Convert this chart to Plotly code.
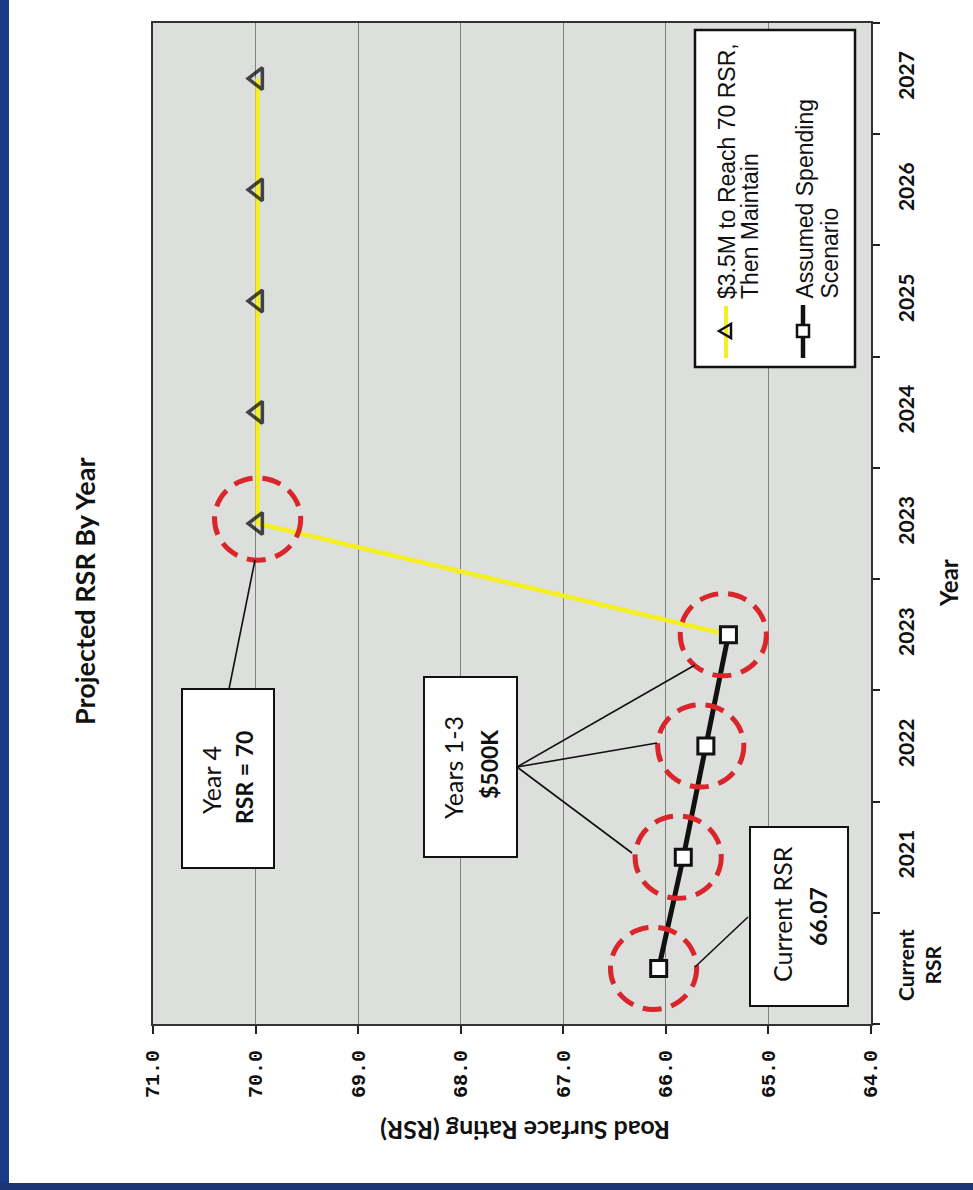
import plotly.graph_objects as go

# ---------------- data ----------------
categories = ["Current<br>RSR", "2021", "2022", "2023", "2023", "2024", "2025", "2026", "2027"]
assumed_spending = [66.07, 65.83, 65.61, 65.39, None, None, None, None, None]
reach_70 = [None, None, None, 65.39, 69.98, 69.98, 69.98, 69.98, 69.98]
circled_assumed = [0, 1, 2, 3]   # category indices circled on the black series
circled_reach = [4]              # category index circled on the yellow series
rsr_ticks = [64.0, 65.0, 66.0, 67.0, 68.0, 69.0, 70.0, 71.0]
rsr_range = [71.0, 64.0]

series1_name = ["$3.5M to Reach 70 RSR,", "Then Maintain"]
series2_name = ["Assumed Spending", "Scenario"]

# ---------------- geometry helpers (pixel -> paper) ----------------
W, H = 973, 1190
L, R, T, B = 153, 871, 23, 1024


def px(x):
    return (x - L) / (R - L)


def py(y):
    return (B - y) / (B - T)


idx = list(range(len(categories)))
YELLOW = "#f3ef22"
RED = "#d8262b"
LATO = "Lato, 'Open Sans', sans-serif"
ARIAL = "'Liberation Sans', Arial, sans-serif"
MONO = "'Liberation Mono', 'DejaVu Sans Mono', monospace"

fig = go.Figure()

# yellow series (first point hidden under the square)
first = next(i for i, v in enumerate(reach_70) if v is not None)
fig.add_trace(go.Scatter(
    x=reach_70, y=idx, mode="lines+markers", name=" ".join(series1_name),
    line=dict(color=YELLOW, width=4.5),
    marker=dict(symbol="triangle-left", color="rgba(0,0,0,0)",
                size=[0 if i == first else 19 for i in idx],
                line=dict(width=3.5, color="#000000")),
    cliponaxis=False,
))
# black series
fig.add_trace(go.Scatter(
    x=assumed_spending, y=idx, mode="lines+markers", name=" ".join(series2_name),
    line=dict(color="#111111", width=5),
    marker=dict(symbol="square", color="white", size=16,
                line=dict(width=3, color="#111111")),
    cliponaxis=False,
))

shapes = []
# red dashed circles around highlighted points
rx, ry, off = 0.42, 0.37, 0.05
for i in circled_assumed:
    v = assumed_spending[i]
    shapes.append(dict(type="circle", xref="x", yref="y", layer="above",
                       x0=v + off - rx, x1=v + off + rx, y0=i - ry, y1=i + ry,
                       line=dict(color=RED, width=5, dash="19px,10px")))
for i in circled_reach:
    v = reach_70[i]
    shapes.append(dict(type="circle", xref="x", yref="y", layer="above",
                       x0=v - rx, x1=v + rx, y0=i - ry + 0.04, y1=i + ry + 0.04,
                       line=dict(color=RED, width=5, dash="19px,10px")))

# callout leader lines (pixel positions)
leaders = [((748, 917), (695, 967)),
           ((517, 767), (632, 853)), ((517, 767), (657, 743)), ((517, 767), (695, 665)),
           ((229, 689), (255, 560))]
for (x0, y0), (x1, y1) in leaders:
    shapes.append(dict(type="line", xref="paper", yref="paper", layer="above",
                       x0=px(x0), y0=py(y0), x1=px(x1), y1=py(y1),
                       line=dict(color="#111111", width=1.6)))

# callout boxes
for (x0, y0, x1, y1) in [(182, 689, 274, 868), (424, 677, 517, 857), (750, 827, 848, 1006)]:
    shapes.append(dict(type="rect", xref="paper", yref="paper", layer="above",
                       x0=px(x0), x1=px(x1), y0=py(y1), y1=py(y0),
                       fillcolor="white", line=dict(color="#111111", width=2)))

# legend box
shapes.append(dict(type="rect", xref="paper", yref="paper", layer="above",
                   x0=px(695), x1=px(855), y0=py(367), y1=py(30),
                   fillcolor="white", line=dict(color="#111111", width=2.5)))
# legend sample: yellow line + triangle
shapes.append(dict(type="line", xref="paper", yref="paper", layer="above",
                   x0=px(726), x1=px(726), y0=py(358), y1=py(306),
                   line=dict(color=YELLOW, width=4)))
tri = [(719, 331), (731, 324), (731, 338)]
shapes.append(dict(type="path", xref="paper", yref="paper", layer="above",
                   path="M {} {} L {} {} L {} {} Z".format(*[c for p in tri for c in (px(p[0]), py(p[1]))]),
                   fillcolor="rgba(0,0,0,0)", line=dict(color="#111111", width=2.5)))
# legend sample: black line + square
shapes.append(dict(type="line", xref="paper", yref="paper", layer="above",
                   x0=px(803), x1=px(803), y0=py(358), y1=py(305),
                   line=dict(color="#111111", width=4.5)))
shapes.append(dict(type="rect", xref="paper", yref="paper", layer="above",
                   x0=px(797), x1=px(809), y0=py(337), y1=py(325),
                   fillcolor="white", line=dict(color="#111111", width=2.5)))

# slide frame (blue bands)
shapes.append(dict(type="rect", xref="paper", yref="paper", layer="above",
                   x0=px(0), x1=px(9), y0=py(1190), y1=py(0),
                   fillcolor="#1b3a85", line=dict(width=0)))
shapes.append(dict(type="rect", xref="paper", yref="paper", layer="above",
                   x0=px(0), x1=px(973), y0=py(1190), y1=py(1183),
                   fillcolor="#1b3672", line=dict(width=0)))

annotations = []


def txt(text, x, y, size, bold=False, family=LATO, angle=-90, xanchor="center", yanchor="middle"):
    annotations.append(dict(
        text=("<b>%s</b>" % text) if bold else text,
        x=px(x), y=py(y), xref="paper", yref="paper", showarrow=False,
        textangle=angle, xanchor=xanchor, yanchor=yanchor,
        font=dict(family=family, size=size, color="#111111")))


# titles
txt("Projected RSR By Year", 84, 592, 27, bold=True)
txt("Year", 949, 583, 24, bold=True)
txt("Road Surface Rating (RSR)", 525, 1131, 25, bold=True, angle=180)

# callout texts
txt("Year 4", 211, 780, 25)
txt("RSR = 70", 244, 778, 23, bold=True)
txt("Years 1-3", 453, 768, 25)
txt("$500K", 489, 765, 23, bold=True)
txt("Current RSR", 782, 914, 25)
txt("66.07", 818, 917, 23, bold=True)

# legend texts
txt(series1_name[0], 727, 301, 23, family=ARIAL, yanchor="bottom")
txt(series1_name[1], 750, 301, 23, family=ARIAL, yanchor="bottom")
txt(series2_name[0], 804, 301, 23, family=ARIAL, yanchor="bottom")
txt(series2_name[1], 829, 301, 23, family=ARIAL, yanchor="bottom")

fig.update_layout(
    width=W, height=H, autosize=False,
    margin=dict(l=L, r=W - R, t=T, b=H - B, pad=0),
    paper_bgcolor="white", plot_bgcolor="#dcdfdc",
    showlegend=False, hovermode=False,
    shapes=shapes, annotations=annotations,
    xaxis=dict(
        range=rsr_range, tickmode="array", tickvals=rsr_ticks,
        ticktext=["<b>%.1f</b>" % v for v in rsr_ticks],
        tickangle=-90, ticks="outside", ticklen=8, tickwidth=1.5, tickcolor="#222222",
        ticklabelstandoff=8,
        tickfont=dict(family=MONO, size=20, color="#111111", weight="bold"),
        showgrid=True, gridcolor="#808080", gridwidth=1,
        showline=True, linecolor="#333333", linewidth=1.8, mirror=True,
        zeroline=False, fixedrange=True,
    ),
    yaxis=dict(
        range=[-0.5, len(categories) - 0.5], side="right",
        tickmode="array", tickvals=idx, ticktext=["<b>%s</b>" % c for c in categories],
        tickangle=-90, ticks="outside", ticklen=16, tickcolor="rgba(0,0,0,0)",
        tickfont=dict(family=LATO, size=21, color="#111111", weight="bold"),
        minor=dict(tickmode="array", tickvals=[i - 0.5 for i in range(len(categories) + 1)],
                   ticks="outside", ticklen=7, tickwidth=1.5, tickcolor="#222222", showgrid=False),
        showgrid=False,
        showline=True, linecolor="#333333", linewidth=1.8, mirror=True,
        zeroline=False, fixedrange=True,
    ),
)

fig.write_html("out.html")
